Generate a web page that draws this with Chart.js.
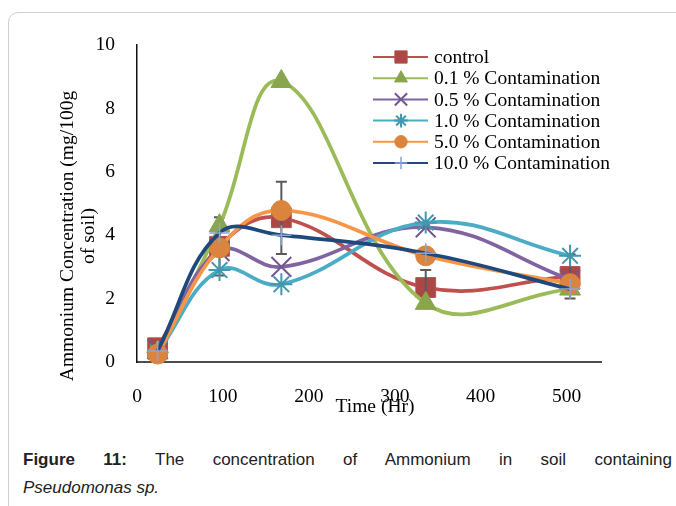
<!DOCTYPE html>
<html>
<head>
<meta charset="utf-8">
<script src="https://cdn.jsdelivr.net/npm/chart.js@4/dist/chart.umd.min.js"></script>
<style>
  html, body { margin: 0; padding: 0; width: 676px; height: 506px; overflow: hidden; background: #fff; }
  .card { position: absolute; left: 8px; top: 12px; width: 720px; height: 540px; border: 1px solid #cfcfcf; border-radius: 10px; }
  #chartBox { position: absolute; left: 0; top: 0; }
  .caption { position: absolute; left: 23px; top: 446px; width: 649px; font-family: "Liberation Sans", Arial, sans-serif; font-size: 17px; line-height: 28px; color: #222; }
  .caption .first { text-align: justify; text-align-last: justify; }
</style>
</head>
<body>
<div class="card"></div>
<canvas id="chartBox" width="676" height="430"></canvas>
<div class="caption">
  <div class="first"><b>Figure 11:</b> The concentration of Ammonium in soil containing</div>
  <div><i>Pseudomonas sp.</i></div>
</div>
<script>
const hours = [24, 96, 168, 336, 504];

const control = [0.45, 3.65, 4.55, 2.35, 2.7];
const controlError = [0.1, 0.92, 1.14, 0.55, 0.7];
const contam01 = [0.3, 4.3, 8.85, 1.85, 2.3];
const contam05 = [0.4, 3.5, 3.0, 4.25, 2.6];
const contam10 = [0.3, 2.9, 2.45, 4.4, 3.35];
const contam50 = [0.25, 3.6, 4.78, 3.35, 2.47];
const contam100 = [0.35, 4.07, 4.0, 3.43, 2.3];

const seriesLabels = [
  "control",
  "0.1 % Contamination",
  "0.5 % Contamination",
  "1.0 % Contamination",
  "5.0 % Contamination",
  "10.0 % Contamination"
];

const xTickValues = [0, 100, 200, 300, 400, 500];
const yTickValues = [0, 2, 4, 6, 8, 10];

const serifFont = "'Liberation Serif', 'Times New Roman', serif";
const textSize = 19.5;

Chart.defaults.font.family = serifFont;
Chart.defaults.font.size = textSize;
Chart.defaults.color = "#000";

function toPoints(values) {
  return hours.map((h, i) => ({ x: h, y: values[i] }));
}

function makeSeries(index, values, lineColor, style) {
  return {
    label: seriesLabels[index],
    data: toPoints(values),
    order: seriesLabels.length - index,
    borderColor: lineColor,
    borderWidth: 3.75,
    tension: 0.4,
    fill: false,
    clip: false,
    pointStyle: style.shape,
    pointRadius: style.radius,
    pointBackgroundColor: style.fill,
    pointBorderColor: style.stroke,
    pointBorderWidth: style.width
  };
}

// grey whiskers for the control series, drawn right after its line and markers
const errorBarPlugin = {
  id: "errorBars",
  afterDatasetDraw(chart, args) {
    if (args.index !== 0) return;
    const ctx = chart.ctx;
    const xScale = chart.scales.x;
    const yScale = chart.scales.y;
    ctx.save();
    ctx.strokeStyle = "#5a5a5a";
    ctx.lineWidth = 2;
    hours.forEach((h, i) => {
      const x = xScale.getPixelForValue(h);
      const top = yScale.getPixelForValue(control[i] + controlError[i]);
      const bottom = yScale.getPixelForValue(control[i] - controlError[i]);
      ctx.beginPath();
      ctx.moveTo(x, top);
      ctx.lineTo(x, bottom);
      ctx.moveTo(x - 5.5, top);
      ctx.lineTo(x + 5.5, top);
      ctx.moveTo(x - 5.5, bottom);
      ctx.lineTo(x + 5.5, bottom);
      ctx.stroke();
    });
    ctx.restore();
  }
};

// legend box inside the plot, each entry a short line with a small marker
const insideLegendPlugin = {
  id: "insideLegend",
  afterDraw(chart) {
    const ctx = chart.ctx;
    chart.data.datasets.forEach((ds, i) => {
      const y = 57 + i * 21.2;
      ctx.save();
      ctx.strokeStyle = ds.borderColor;
      ctx.lineWidth = 2;
      ctx.beginPath();
      ctx.moveTo(373, y);
      ctx.lineTo(428, y);
      ctx.stroke();
      ctx.fillStyle = ds.pointBackgroundColor;
      ctx.strokeStyle = ds.pointBorderColor;
      ctx.lineWidth = ds.pointBorderWidth;
      Chart.helpers.drawPoint(ctx, {
        pointStyle: ds.pointStyle,
        radius: ds.pointRadius * 0.62,
        borderWidth: ds.pointBorderWidth,
        rotation: 0
      }, 401, y);
      ctx.fillStyle = "#000";
      ctx.font = textSize + "px " + serifFont;
      ctx.textBaseline = "middle";
      ctx.textAlign = "left";
      ctx.fillText(ds.label, 434, y + 1);
      ctx.restore();
    });
  }
};

const axisTitlePlugin = {
  id: "axisTitles",
  afterDraw(chart) {
    const ctx = chart.ctx;
    ctx.save();
    ctx.fillStyle = "#000";
    ctx.font = textSize + "px " + serifFont;
    ctx.textAlign = "center";
    ctx.textBaseline = "middle";
    ctx.fillText("Time (Hr)", 375, 407);
    ctx.translate(68, 236);
    ctx.rotate(-Math.PI / 2);
    ctx.fillText("Ammonium Concentration (mg/100g", 0, 0);
    ctx.fillText("of soil)", 0, 21);
    ctx.restore();
  }
};

function createChart() {
  const datasets = [
    makeSeries(0, control, "#C0504D", { shape: "rect", radius: 14, fill: "#AB4744", stroke: "#B9524F", width: 1 }),
    makeSeries(1, contam01, "#9BBB59", { shape: "triangle", radius: 12, fill: "#89A54E", stroke: "#89A54E", width: 1 }),
    makeSeries(2, contam05, "#8064A2", { shape: "crossRot", radius: 14, fill: "#71588F", stroke: "#71588F", width: 2 }),
    makeSeries(3, contam10, "#4BACC6", { shape: "star", radius: 11, fill: "#4198AF", stroke: "#4198AF", width: 2 }),
    makeSeries(4, contam50, "#F79646", { shape: "circle", radius: 10, fill: "#DB843D", stroke: "#DB843D", width: 1 }),
    makeSeries(5, contam100, "#1F497D", { shape: "cross", radius: 10, fill: "#8CA5D3", stroke: "#8CA5D3", width: 1.5 })
  ];

  new Chart(document.getElementById("chartBox"), {
    type: "line",
    data: { datasets },
    options: {
      responsive: false,
      animation: false,
      layout: {
        padding: { left: 0, right: 75, top: 45, bottom: 0 }
      },
      plugins: {
        legend: { display: false },
        tooltip: { enabled: false }
      },
      scales: {
        x: {
          type: "linear",
          min: 0,
          max: 540,
          afterBuildTicks: scale => { scale.ticks = xTickValues.map(v => ({ value: v })); },
          afterFit: scale => { scale.height = 68; },
          grid: { display: false, drawTicks: false },
          border: { display: true, color: "#4d4d4d", width: 2 },
          ticks: { padding: 23, maxRotation: 0, autoSkip: false }
        },
        y: {
          min: 0,
          max: 10,
          afterBuildTicks: scale => { scale.ticks = yTickValues.map(v => ({ value: v })); },
          afterFit: scale => { scale.width = 137; },
          grid: { display: false, drawTicks: false },
          border: { display: true, color: "#111", width: 1.5 },
          ticks: { padding: 22 }
        }
      }
    },
    plugins: [errorBarPlugin, insideLegendPlugin, axisTitlePlugin]
  });
}

createChart();
</script>
</body>
</html>
